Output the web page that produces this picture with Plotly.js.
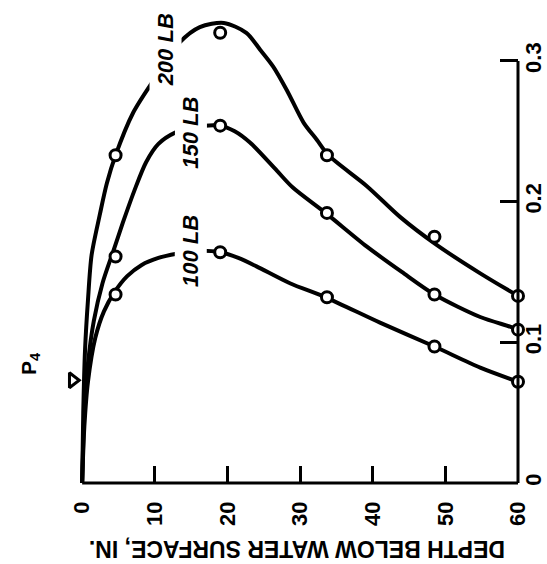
<!DOCTYPE html>
<html><head><meta charset="utf-8">
<script src="https://cdn.plot.ly/plotly-3.0.1.min.js"></script>
<style>html,body{margin:0;padding:0;background:#fff}</style>
</head><body><div id="chart" style="width:547px;height:564px"></div>
<script>
// measured data points (open circles)
const depthCircles = [4.6, 19, 33.7, 48.5, 60];
const p200Circles = [0.233, 0.320, 0.233, 0.175, 0.133];
const p150Circles = [0.161, 0.254, 0.192, 0.134, 0.109];
const p100Circles = [0.134, 0.164, 0.132, 0.097, 0.072];

// hand-faired curves
const depth200Curve = [0, 0.15, 0.4, 0.8, 1.3, 2.4, 3.4, 4.6, 7, 9.8, 13.4, 16.2, 19.5, 22.6, 24.5, 26.3, 28.2, 30.5, 32.3, 33.9, 39.2, 43.8, 48.6, 54.8, 60];
const p200Curve     = [0, 0.05, 0.095, 0.13, 0.162, 0.19, 0.213, 0.233, 0.263, 0.286, 0.313, 0.324, 0.327, 0.320, 0.308, 0.296, 0.279, 0.256, 0.244, 0.233, 0.211, 0.189, 0.170, 0.149, 0.133];
const depth150Curve = [0, 0.3, 0.8, 1.6, 2.8, 4.3, 5.6, 7.2, 8.8, 10.5, 12.8, 15.5, 19, 21, 23.1, 26.8, 29, 33.5, 39.2, 44, 48.5, 54.8, 59, 60];
const p150Curve     = [0, 0.05, 0.085, 0.115, 0.142, 0.165, 0.185, 0.208, 0.228, 0.241, 0.249, 0.253, 0.254, 0.250, 0.242, 0.222, 0.210, 0.192, 0.168, 0.150, 0.134, 0.118, 0.111, 0.109];
const depth100Curve = [0, 0.3, 0.8, 1.8, 3.0, 4.5, 6.2, 8.2, 10.5, 13, 16, 19, 21.5, 24, 28.6, 33.5, 41, 48.5, 54.8, 60];
const p100Curve     = [0, 0.04, 0.072, 0.103, 0.122, 0.136, 0.147, 0.155, 0.160, 0.163, 0.165, 0.164, 0.160, 0.154, 0.142, 0.132, 0.114, 0.097, 0.082, 0.072];

// water-surface symbol
const surfaceDepth = [-1.3];
const surfaceP = [0.073];

const curveLabels = ['200 LB', '150 LB', '100 LB'];
const labelDepth = [11.5, 15.0, 15.0];
const labelP = [0.308, 0.249, 0.165];

const xTicks = [0, 10, 20, 30, 40, 50, 60];
const yTicks = [0, 0.1, 0.2, 0.3];
const yTickText = ['0', '0.1', '0.2', '0.3'];
const xTitle = 'DEPTH BELOW WATER SURFACE, IN.';
const yTitle = 'P<sub>4</sub>';

const lineStyle = {color: '#000', width: 4, shape: 'spline', smoothing: 0.8};
const circleMarker = {symbol: 'circle', size: 11, color: '#fff', line: {color: '#000', width: 3}};

const traces = [
  {x: depth200Curve, y: p200Curve, mode: 'lines', line: lineStyle, hoverinfo: 'skip'},
  {x: depth150Curve, y: p150Curve, mode: 'lines', line: lineStyle, hoverinfo: 'skip'},
  {x: depth100Curve, y: p100Curve, mode: 'lines', line: lineStyle, hoverinfo: 'skip'},
  {x: depthCircles, y: p200Circles, mode: 'markers', marker: circleMarker, cliponaxis: false},
  {x: depthCircles, y: p150Circles, mode: 'markers', marker: circleMarker, cliponaxis: false},
  {x: depthCircles, y: p100Circles, mode: 'markers', marker: circleMarker, cliponaxis: false},
  {x: surfaceDepth, y: surfaceP, mode: 'markers', cliponaxis: false,
   marker: {symbol: 'triangle-right-open', size: 13, color: '#000', line: {color: '#000', width: 3}}}
];

const tickFont = {family: 'Liberation Sans, Arial, sans-serif', size: 22, color: '#000', weight: 'bold'};

const annotations = curveLabels.map((t, i) => ({
  x: labelDepth[i], y: labelP[i], xref: 'x', yref: 'y', text: t, showarrow: false,
  textangle: -90, bgcolor: '#fff', borderpad: 3,
  font: {family: 'Liberation Sans, Arial, sans-serif', size: 22, color: '#000', weight: 'bold', style: 'italic'}
}));
annotations.push({
  x: 0.4966, y: 0, xref: 'paper', yref: 'paper', yshift: -66, text: xTitle, showarrow: false,
  textangle: 180, xanchor: 'center', yanchor: 'middle',
  font: {family: 'Liberation Sans, Arial, sans-serif', size: 23, color: '#000', weight: 'bold'}
});
annotations.push({
  x: 30, y: 0.0846, xref: 'paper', yref: 'y', text: yTitle, showarrow: false,
  textangle: -90, xanchor: 'center', yanchor: 'middle',
  font: {family: 'Liberation Sans, Arial, sans-serif', size: 21, color: '#000', weight: 'bold'}
});

const layout = {
  width: 547, height: 564,
  margin: {l: 64, r: 29, t: 10, b: 81, pad: 0},
  paper_bgcolor: '#fff', plot_bgcolor: '#fff',
  showlegend: false,
  xaxis: {
    range: [-2.5, 60], tickvals: xTicks, ticktext: xTicks.map(String),
    ticks: 'inside', ticklen: 17, tickwidth: 3, tickcolor: '#000',
    tickangle: -90, ticklabelstandoff: 13, tickfont: tickFont,
    showgrid: false, zeroline: false, showline: false, fixedrange: true
  },
  yaxis: {
    range: [0, 0.3362], side: 'right', tickvals: yTicks, ticktext: yTickText,
    ticks: 'inside', ticklen: 18, tickwidth: 3, tickcolor: '#000',
    tickangle: -90, ticklabelstandoff: 0, tickfont: tickFont,
    showgrid: false, zeroline: false, showline: false, fixedrange: true
  },
  shapes: [
    {type: 'line', xref: 'x', yref: 'paper', x0: 0, x1: 60, y0: 0, y1: 0, layer: 'above', line: {color: '#000', width: 3}},
    {type: 'line', xref: 'paper', yref: 'y', x0: 1, x1: 1, y0: 0, y1: 0.3, layer: 'above', line: {color: '#000', width: 3}}
  ],
  annotations: annotations
};
// P4 label and axis title x given in pixels: convert to paper fraction
const plotW = 547 - layout.margin.l - layout.margin.r;
layout.annotations[layout.annotations.length - 1].x = (30 - layout.margin.l) / plotW;
layout.annotations[layout.annotations.length - 2].x = (297.5 - layout.margin.l) / plotW;

Plotly.newPlot('chart', traces, layout, {displayModeBar: false, staticPlot: true});
</script>
</body></html>
